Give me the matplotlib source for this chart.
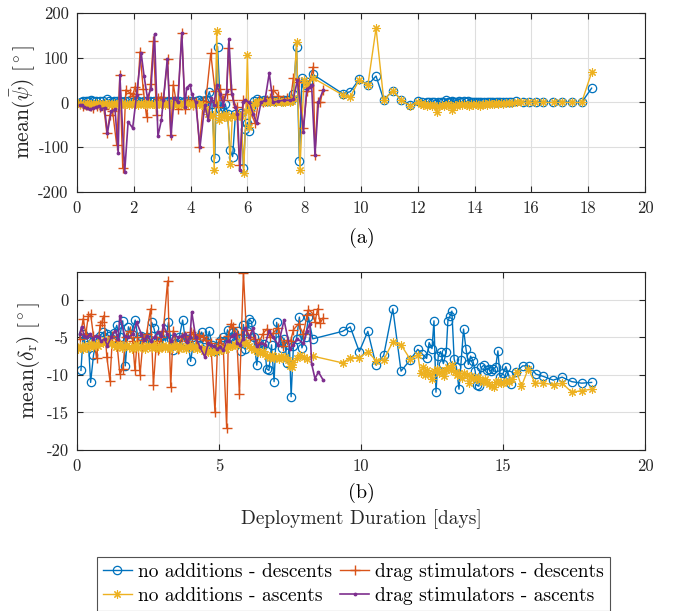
import matplotlib
matplotlib.use('Agg')
import matplotlib.pyplot as plt

plt.rcParams['font.family'] = 'serif'
plt.rcParams['font.serif'] = ['cmr10']
plt.rcParams['mathtext.fontset'] = 'cm'
plt.rcParams['axes.unicode_minus'] = False

# no additions - descents
nd_days = [0.14, 0.22, 0.30, 0.40, 0.48, 0.58, 0.68, 0.80, 0.93, 1.05, 1.13, 1.22, 1.31, 1.40, 1.50,
           1.61, 1.70, 1.81, 1.92, 2.05, 2.15, 2.26, 2.36, 2.47, 2.56, 2.63, 2.71, 2.82, 2.92, 3.02,
           3.12, 3.22, 3.30, 3.39, 3.50, 3.60, 3.72, 3.82, 3.90, 4.00, 4.10, 4.20, 4.30, 4.39, 4.48,
           4.56, 4.66, 4.75, 4.85, 4.95, 5.05, 5.15, 5.22, 5.30, 5.39, 5.48, 5.58, 5.68, 5.78, 5.86,
           5.93, 6.00, 6.07, 6.14, 6.22, 6.33, 6.42, 6.52, 6.60, 6.68, 6.76, 6.85, 6.94, 7.03, 7.12,
           7.22, 7.30, 7.40, 7.48, 7.54, 7.62, 7.73, 7.83, 7.92, 8.05, 8.15, 8.30,
           9.35, 9.62, 9.94, 10.24, 10.53, 10.80, 11.12, 11.41, 11.73, 12.00, 12.15, 12.31, 12.40,
           12.50, 12.57, 12.64, 12.72, 12.80, 12.90, 13.00, 13.06, 13.13, 13.20, 13.28, 13.36, 13.45,
           13.53, 13.61, 13.70, 13.78, 13.86, 13.94, 14.02, 14.08, 14.15, 14.24, 14.33, 14.42, 14.50,
           14.58, 14.65, 14.74, 14.82, 14.90, 15.00, 15.10, 15.20, 15.28, 15.46, 15.69, 15.92, 16.16,
           16.42, 16.77, 17.08, 17.42, 17.77, 18.12]
nd_psi = [2, 3, 4, 3, 5, 4, 3, 4, 3, 8, 3, 2, 3, 4, 3,
          2, 4, 3, 2, 4, 3, 2, 3, 4, 3, 2, 3, 4, 3, 4,
          2, 3, 2, 3, 4, 3, 2, 3, 4, 3, 2, 3, 5, 4, 3,
          6, 24, -3, -125, 125, -15, -22, -3, -26, -106, -121, -26, -28, -24, -147,
          -60, -45, -63, -10, 3, 7, 4, 3, 6, 4, 3, 5, 4, 6, 5,
          4, 5, 6, 5, 6, 20, 125, -130, 55, 40, 45, 63,
          20, 24, 52, 39, 59, 6, 26, 6, -6, 3, 2, 1, 2,
          0, 1, -4, 2, 0, 2, 5, 2, 1, 3, 2, 0, 3,
          1, 4, 2, 3, 1, 2, 0, 1, 2, 0, 1, 2, 0,
          1, 2, 0, 1, 0, 1, 0, 1, 0, 3, 1, 1, 1,
          1, 0, 1, 0, 0, 32]
nd_delta = [-9.4, -4.5, -5.0, -5.5, -11.0, -7.4, -5.2, -4.8, -4.3, -4.6, -4.8, -5.2, -4.4, -3.4, -5.0,
            -2.8, -8.8, -3.6, -4.5, -2.7, -5.2, -4.8, -5.6, -4.9, -5.3, -3.0, -3.8, -5.6, -5.0, -4.7,
            -5.5, -3.0, -5.2, -6.7, -5.8, -5.0, -2.7, -5.5, -5.2, -8.2, -5.6, -5.4, -5.0, -4.3, -5.2,
            -5.6, -4.2, -6.0, -6.8, -6.2, -5.5, -5.0, -5.5, -4.0, -5.0, -4.3, -5.6, -4.2, -6.8, -3.3,
            -6.5, -4.2, -2.6, -2.9, -5.0, -8.7, -5.8, -6.3, -5.9, -9.2, -9.4, -6.0, -10.9, -3.0, -5.3,
            -6.4, -5.2, -8.4, -6.0, -12.9, -6.2, -5.2, -2.3, -6.4, -5.0, -2.3, -5.2,
            -4.2, -3.6, -6.9, -4.2, -8.7, -7.4, -1.2, -9.5, -8.0, -6.6, -7.2, -7.8, -5.7,
            -6.5, -2.8, -12.3, -7.5, -6.9, -8.5, -7.0, -2.8, -2.2, -1.5, -7.9, -9.0, -11.9,
            -8.0, -3.9, -6.6, -8.6, -7.5, -8.1, -9.5, -11.4, -11.5, -9.0, -8.7, -9.3, -9.2,
            -9.5, -9.2, -9.0, -6.8, -10.3, -9.8, -8.9, -10.0, -11.2, -9.6, -8.8, -8.8, -9.9,
            -10.2, -10.7, -10.3, -10.9, -11.1, -11.0]

# no additions - ascents
na_days = [0.05, 0.12, 0.20, 0.27, 0.35, 0.43, 0.50, 0.58, 0.66, 0.74, 0.82, 0.90, 0.97, 1.05, 1.13,
           1.21, 1.29, 1.37, 1.45, 1.53, 1.60, 1.68, 1.76, 1.84, 1.92, 2.00, 2.08, 2.16, 2.24, 2.32,
           2.40, 2.48, 2.55, 2.63, 2.71, 2.79, 2.87, 2.95, 3.03, 3.11, 3.19, 3.27, 3.35, 3.43, 3.51,
           3.59, 3.67, 3.75, 3.83, 3.91, 3.99, 4.07, 4.15, 4.23, 4.31, 4.39, 4.47, 4.55, 4.63, 4.70,
           4.78, 4.83, 4.92, 5.00, 5.08, 5.16, 5.24, 5.32, 5.39, 5.47, 5.55, 5.63, 5.71, 5.79, 5.87,
           5.95, 6.00, 6.06, 6.14, 6.22, 6.30, 6.38, 6.46, 6.54, 6.62, 6.70, 6.78, 6.86, 6.94, 7.02,
           7.10, 7.18, 7.26, 7.34, 7.42, 7.50, 7.56, 7.62, 7.73, 7.85, 7.99, 8.10, 8.30,
           9.35, 9.62, 9.94, 10.24, 10.53, 10.80, 11.12, 11.41, 11.73, 12.00,
           12.10, 12.18, 12.26, 12.34, 12.42, 12.50, 12.58, 12.68, 12.76, 12.84, 12.92, 13.00, 13.08,
           13.16, 13.22, 13.30, 13.38, 13.46, 13.54, 13.62, 13.72, 13.80, 13.88, 13.96, 14.04, 14.12,
           14.20, 14.28, 14.36, 14.44, 14.52, 14.60, 14.68, 14.76, 14.84, 14.92, 15.00, 15.10, 15.20,
           15.30, 15.48, 15.65, 15.89, 16.13, 16.42, 16.78, 17.08, 17.42, 17.77, 18.12]
na_psi = [-2, -4, -3, -5, -2, -4, -3, -6, -2, -4, -3, -5, -2, -4, -3,
          -6, -2, -4, -3, -5, -2, -4, -3, -6, -2, -4, -3, -5, -2, -4,
          -3, -6, -2, -4, -3, -5, -2, -4, -3, -5, -2, -4, -3, -6, -2,
          -4, -3, -5, -2, -4, -3, -5, -2, -4, -3, -6, -8, -15, -25, -30,
          -28, -151, 160, -39, -28, -32, -25, -35, -137, -30, -28, -33, -26, -30, -158,
          -20, 105, -55, -15, -3, 0, 2, 1, 3, 0, 2, 1, 3, 2, 1,
          3, 2, 0, 2, 3, 1, 4, 10, 134, -151, 50, 40, 55,
          17, 12, 51, 38, 166, 6, 26, 6, -8, 0,
          -3, -6, -4, -8, -5, -9, -6, -21, -7, -5, -8, -6, -4,
          -7, -16, -5, -7, -4, -6, -3, -5, -7, -4, -6, -3, -5,
          -7, -4, -3, -5, -2, -4, -3, -2, -4, -2, -3, -2, -1,
          -2, 0, 0, 0, 0, 0, 0, 0, 0, 0, 67]
na_delta = [-6.5, -6.2, -6.6, -6.0, -6.4, -6.1, -5.8, -6.3, -5.9, -6.2, -5.6, -5.8, -5.3, -5.6, -5.5,
            -5.9, -6.0, -6.3, -6.1, -5.9, -6.4, -6.2, -6.0, -6.3, -6.5, -6.2, -5.9, -6.4, -6.1, -6.3,
            -6.6, -6.0, -6.2, -6.4, -5.9, -6.3, -6.5, -6.1, -6.0, -6.4, -6.2, -6.6, -6.3, -6.0, -6.2,
            -6.5, -6.1, -6.3, -6.6, -6.2, -6.0, -6.4, -6.2, -6.6, -6.3, -6.5, -6.8, -6.6, -6.9, -7.0,
            -6.8, -6.9, -6.6, -6.8, -6.7, -6.4, -6.6, -6.3, -6.1, -6.2, -5.9, -6.0, -5.7, -5.5, -5.8,
            -5.6, -5.9, -6.2, -6.4, -6.7, -6.5, -6.9, -7.1, -6.8, -7.2, -7.5, -7.7, -7.4, -7.8, -7.6,
            -7.9, -7.5, -7.8, -7.6, -8.0, -8.8, -9.0, -8.3, -7.8, -7.3, -7.6, -7.9, -7.5,
            -8.4, -7.7, -7.7, -6.9, -8.1, -8.0, -5.6, -6.0, -7.9, -7.3,
            -9.8, -9.0, -10.0, -9.4, -9.9, -10.5, -9.5, -9.2, -9.7, -9.5, -10.2, -9.4, -9.0,
            -9.3, -8.7, -9.6, -10.0, -9.8, -10.4, -9.7, -10.0, -11.1, -10.2, -10.4, -10.6, -10.3,
            -10.7, -11.0, -10.5, -10.9, -11.2, -11.5, -11.6, -11.0, -10.8, -11.1, -11.1, -10.8, -11.0,
            -10.6, -9.6, -11.5, -9.2, -11.1, -11.1, -11.3, -11.1, -12.3, -12.1, -11.9]

# drag stimulators - descents
sd_days = [0.10, 0.22, 0.31, 0.40, 0.48, 0.58, 0.69, 0.81, 0.87, 0.95, 1.05, 1.16, 1.25, 1.40, 1.51,
           1.61, 1.72, 1.87, 1.96, 2.04, 2.13, 2.22, 2.33, 2.45, 2.59, 2.69, 2.80, 2.86, 2.95, 3.04,
           3.19, 3.30, 3.39, 3.54, 3.69, 3.80, 3.92, 4.02, 4.10, 4.20, 4.31, 4.45, 4.53, 4.71, 4.86,
           4.95, 5.04, 5.15, 5.27, 5.33, 5.42, 5.50, 5.62, 5.72, 5.86, 5.96, 6.10, 6.27, 6.40, 6.55,
           6.68, 6.80, 6.91, 7.09, 7.26, 7.40, 7.52, 7.62, 7.80, 7.97, 8.10, 8.15, 8.32, 8.38, 8.47,
           8.56, 8.67]
sd_psi = [-3, -8, -5, -6, -9, -12, -8, -10, -6, -14, -69, -28, -18, -96, 61,
          -147, 28, 21, 15, 35, 20, 113, 30, -32, 42, 137, -28, 10, 12, 3,
          97, -73, 40, -15, 155, -15, 5, 2, -5, 0, -99, 3, 0, 110, 25,
          -10, 30, 5, 20, 121, 30, 5, -10, -140, 5, 0, -20, -46, 5, 0,
          5, 10, 28, 15, 5, 10, 8, 55, 45, -57, 25, 35, 80, -117, 0,
          0, 28]
sd_delta = [-5.2, -2.5, -4.6, -2.1, -1.9, -4.8, -7.8, -3.4, -3.0, -2.1, -7.6, -10.8, -4.8, -5.5, -9.9,
            -9.2, -5.0, -4.1, -5.5, -9.4, -5.0, -10.0, -5.3, -4.5, -1.2, -11.4, -5.5, -6.7, -5.0, -4.1,
            2.5, -11.6, -4.1, -6.5, -5.0, -4.8, -5.5, -4.3, -4.5, -5.2, -4.7, -5.0, -5.4, -5.8, -15.0,
            -6.0, -5.2, -6.3, -17.1, -4.8, -3.2, -3.6, -4.5, -12.6, 3.6, -4.0, -4.9, -5.2, -5.8, -4.5,
            -3.9, -5.0, -4.4, -3.7, -6.1, -5.4, -5.5, -4.0, -3.2, -4.6, -2.0, -1.3, -1.9, -3.0, -1.2,
            -3.1, -2.4]

# drag stimulators - ascents
sa_days = [0.10, 0.16, 0.26, 0.36, 0.46, 0.56, 0.66, 0.76, 0.86, 0.97, 1.07, 1.20, 1.34, 1.45, 1.51,
           1.68, 1.80, 1.96, 2.10, 2.26, 2.36, 2.48, 2.60, 2.73, 2.85, 2.97, 3.04, 3.18, 3.31, 3.42,
           3.55, 3.69, 3.80, 3.86, 3.98, 4.04, 4.18, 4.33, 4.50, 4.62, 4.72, 4.82, 4.92, 5.03, 5.15,
           5.27, 5.35, 5.45, 5.56, 5.65, 5.74, 5.84, 5.92, 6.07, 6.20, 6.33, 6.48, 6.62, 6.77, 6.90,
           7.09, 7.29, 7.50, 7.62, 7.76, 7.97, 8.09, 8.20, 8.26, 8.38, 8.50, 8.67]
sa_psi = [-6, -5, -10, -12, -15, -13, -10, -8, -14, -12, -69, -20, -15, -113, 61,
          -155, -43, -57, 17, 110, 60, 10, 30, 152, -75, -40, 5, 97, -75, 10,
          0, 155, -10, 33, 40, 20, 0, -100, -5, -40, 10, -5, 38, 20, -5,
          25, 142, 20, -10, -25, -152, 0, 5, 0, -25, -47, 0, 5, 66, 0,
          3, 5, 5, 8, 50, -65, 30, 35, 40, -117, 0, 28]
sa_delta = [-4.5, -3.6, -4.8, -5.0, -4.5, -5.2, -4.8, -5.0, -5.5, -5.2, -6.1, -5.0, -4.1, -5.2, -2.1,
            -4.8, -5.0, -4.6, -3.0, -4.5, -5.4, -4.8, -5.5, -4.9, -4.3, -4.8, -3.4, -4.6, -5.5, -4.6,
            -5.0, -4.8, -4.5, -5.6, -5.0, -1.6, -5.0, -6.3, -7.6, -5.8, -6.0, -6.2, -6.5, -6.3, -6.7,
            -5.5, -5.5, -4.8, -4.5, -5.8, -6.0, -5.2, -3.8, -5.0, -3.8, -6.1, -5.8, -6.0, -4.1, -5.0,
            -6.0, -2.7, -6.5, -6.0, -5.2, -5.8, -4.1, -3.2, -8.5, -10.5, -9.6, -10.7]

labels = ['no additions - descents', 'no additions - ascents',
          'drag stimulators - descents', 'drag stimulators - ascents']
colors = ['#0072BD', '#EDB120', '#D95319', '#7E2F8E']
top_xticks = [0, 2, 4, 6, 8, 10, 12, 14, 16, 18, 20]
top_yticks = [-200, -100, 0, 100, 200]
bot_xticks = [0, 5, 10, 15, 20]
bot_yticks = [-20, -15, -10, -5, 0]


def style_axes(ax, xticks, yticks):
    ax.set_xticks(xticks)
    ax.set_yticks(yticks)
    ax.set_xticklabels([str(t) for t in xticks])
    ax.set_yticklabels([str(t) for t in yticks])
    ax.grid(True, color='#dedede', linewidth=0.8)
    ax.set_axisbelow(True)
    ax.tick_params(direction='in', length=4, width=0.8, top=True, right=True,
                   labelsize=12, colors='#262626', pad=6)
    for s in ax.spines.values():
        s.set_color('#262626')
        s.set_linewidth(0.8)


def draw_series(ax, vals):
    nd, na, sd, sa = vals
    h1, = ax.plot(nd_days, nd, color=colors[0], marker='o', markersize=6,
                  markerfacecolor='none', markeredgewidth=0.9, linewidth=1, label=labels[0])
    h3, = ax.plot(sd_days, sd, color=colors[2], marker='+', markersize=7,
                  markeredgewidth=1, linewidth=1, label=labels[2])
    h2, = ax.plot(na_days, na, color=colors[1], marker=(8, 2, 0), markersize=6,
                  markeredgewidth=0.8, linewidth=1, label=labels[1])
    h4, = ax.plot(sa_days, sa, color=colors[3], marker='.', markersize=3.5,
                  linewidth=1.2, label=labels[3])
    return [h1, h2, h3, h4]


fig = plt.figure(figsize=(6.73, 6.11), dpi=100)
ax1 = fig.add_axes([0.1144, 0.6858, 0.844, 0.293])
ax2 = fig.add_axes([0.1144, 0.2635, 0.844, 0.2913])

draw_series(ax1, [nd_psi, na_psi, sd_psi, sa_psi])
ax1.set_xlim(0, 20)
ax1.set_ylim(-200, 200)
style_axes(ax1, top_xticks, top_yticks)
ax1.set_ylabel(r'$\mathrm{mean}(\bar{\psi})\ [^\circ]$', fontsize=15.5, color='#262626', labelpad=0)

handles = draw_series(ax2, [nd_delta, na_delta, sd_delta, sa_delta])
ax2.set_xlim(0, 20)
ax2.set_ylim(-20, 3.7)
style_axes(ax2, bot_xticks, bot_yticks)
ax2.set_ylabel(r'$\mathrm{mean}(\delta_\mathrm{r})\ [^\circ]$', fontsize=15.5, color='#262626', labelpad=3)

fig.text(0.537, 1 - 238 / 611, '(a)', ha='center', va='center', fontsize=14.5)
fig.text(0.537, 1 - 493 / 611, '(b)', ha='center', va='center', fontsize=14.5)
fig.text(0.537, 1 - 519 / 611, 'Deployment Duration [days]', ha='center', va='center',
         fontsize=14, color='#262626')

leg = fig.legend(handles=handles, loc='center', bbox_to_anchor=(0.525, 1 - 584 / 611), ncol=2,
                 fontsize=14, frameon=True, fancybox=False, edgecolor='#262626',
                 handlelength=1.5, handletextpad=0.3, columnspacing=0.45, borderpad=0.3,
                 labelspacing=0.32, borderaxespad=0)
leg.get_frame().set_linewidth(0.8)

fig.savefig('out.png', dpi=100)
